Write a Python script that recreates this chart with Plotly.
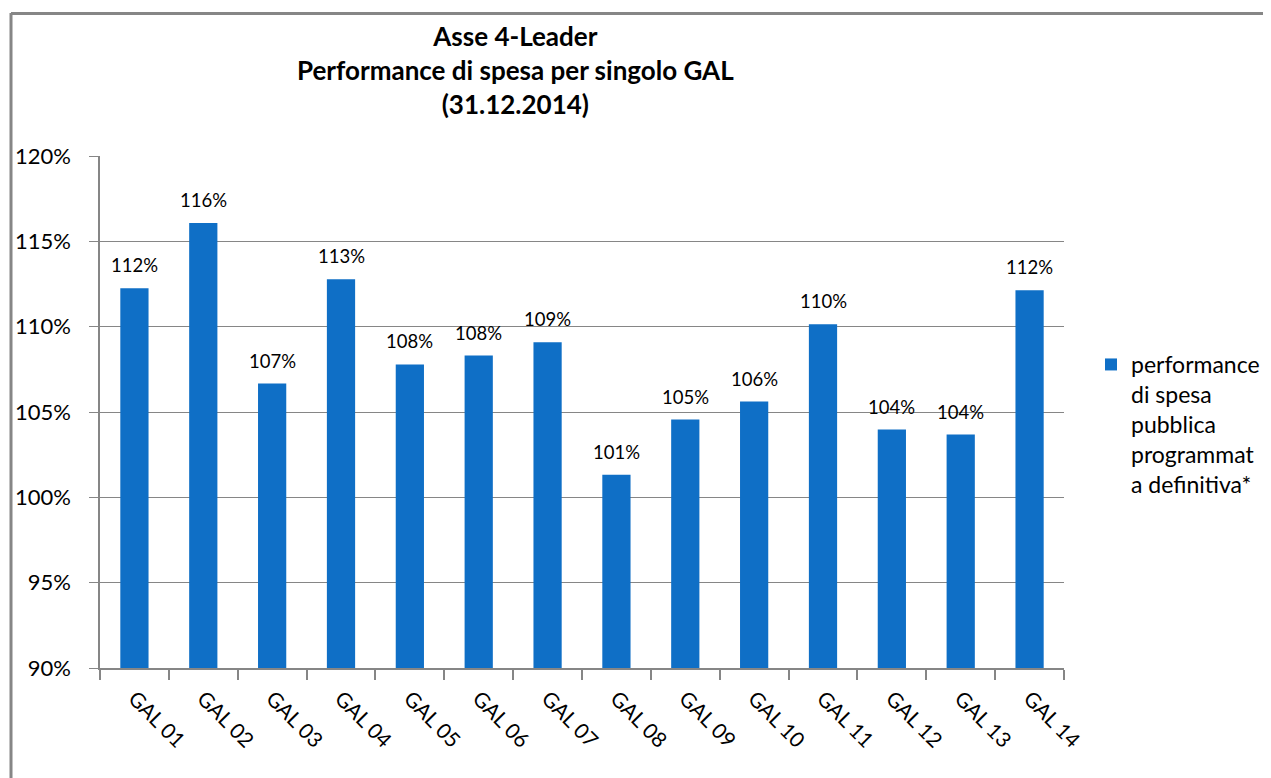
import plotly.graph_objects as go

categories = ["GAL 01", "GAL 02", "GAL 03", "GAL 04", "GAL 05", "GAL 06", "GAL 07",
              "GAL 08", "GAL 09", "GAL 10", "GAL 11", "GAL 12", "GAL 13", "GAL 14"]
performance = [1.1225, 1.1607, 1.0667, 1.1278, 1.0779, 1.0831, 1.0908,
               1.0133, 1.0456, 1.0561, 1.1014, 1.0397, 1.0368, 1.1213]
series_name = "performance<br>di spesa<br>pubblica<br>programmat<br>a definitiva*"
title_text = "<b>Asse 4-Leader<br>Performance di spesa per singolo GAL<br>(31.12.2014)</b>"

OFF = 8  # page body margin
W, H = 1271 - OFF, 778 - OFF
# plot area in page pixels: x 100..1064, y 156..668
L, T = 100 - OFF, 156 - OFF
R = W - (1064 - OFF)
B = H - (668 - OFF)
pw, ph = W - L - R, H - T - B

def px_x(x):
    return (x - OFF - L) / pw

def px_y(y):
    return (H - B - (y - OFF)) / ph

FONT = "Lato, 'Open Sans', sans-serif"
GRAY = "#868686"

fig = go.Figure()
fig.add_trace(go.Bar(
    x=categories, y=performance, name=series_name,
    marker=dict(color="#0F6FC6", line=dict(width=0)),
    showlegend=True,
))

for c, v in zip(categories, performance):
    fig.add_annotation(x=c, y=v, text=f"{round(v * 100):d}%", showarrow=False,
                       yanchor="bottom", yshift=10,
                       font=dict(family=FONT, size=18.5, color="#000"))

fig.add_annotation(x=px_x(515), y=px_y(18), xref="paper", yref="paper",
                   text=title_text, showarrow=False, xanchor="center", yanchor="top",
                   align="center", font=dict(family=FONT, size=26, color="#000"))

# chart frame (top and left edges visible)
fig.add_shape(type="line", xref="paper", yref="paper",
              x0=px_x(11), x1=px_x(1300), y0=px_y(13.5), y1=px_y(13.5),
              line=dict(color=GRAY, width=3))
fig.add_shape(type="line", xref="paper", yref="paper",
              x0=px_x(11), x1=px_x(11), y0=px_y(13), y1=px_y(800),
              line=dict(color=GRAY, width=3))

fig.update_layout(
    width=W, height=H,
    margin=dict(l=L, r=R, t=T, b=B, autoexpand=False),
    paper_bgcolor="white", plot_bgcolor="white",
    bargap=0.59,
    font=dict(family=FONT, color="#000"),
    legend=dict(x=px_x(1091), y=px_y(343), xanchor="left", yanchor="top",
                valign="top", font=dict(family=FONT, size=23, color="#000"),
                itemwidth=30, bgcolor="rgba(0,0,0,0)"),
    xaxis=dict(showline=True, linecolor=GRAY, linewidth=2,
               ticks="outside", ticklen=10, tickcolor=GRAY, tickwidth=1.5,
               tickson="boundaries", tickangle=45, ticklabelstandoff=8,
               tickfont=dict(family=FONT, size=21, color="#000"),
               showgrid=False),
    yaxis=dict(range=[0.9, 1.2], dtick=0.05, tickformat=".0%",
               showline=True, linecolor=GRAY, linewidth=1.5,
               ticks="outside", ticklen=9, tickcolor=GRAY,
               ticklabelstandoff=14,
               showgrid=True, gridcolor=GRAY, gridwidth=1.2,
               zeroline=False,
               tickfont=dict(family=FONT, size=22, color="#000")),
)

fig.write_html("out.html")
